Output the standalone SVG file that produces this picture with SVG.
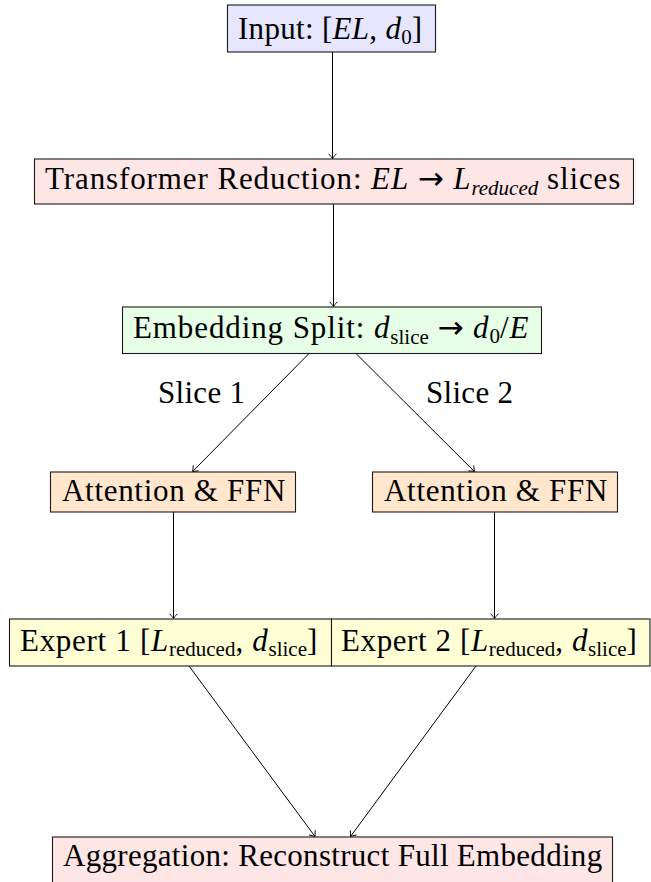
<svg xmlns="http://www.w3.org/2000/svg" width="651" height="882" viewBox="0 0 651 882">
  <style>
    .box { stroke: #1a1a1a; stroke-width: 1.1; }
    .t { font-size: 31px; fill: #000; letter-spacing: 0.3px; }
    .w { letter-spacing: 0.9px; }
    .m { font-style: italic; }
    .s { font-size: 21px; letter-spacing: 0; }
    .edge { fill: none; stroke: #000; stroke-width: 1; }
  </style>
  <defs>
    <marker id="tip" markerUnits="userSpaceOnUse" markerWidth="12" markerHeight="12" viewBox="-6 -6 12 12" refX="0" refY="0" orient="auto" overflow="visible">
      <path d="M-4.5,-3.6 Q-1.4,-0.9 0,0 Q-1.4,0.9 -4.5,3.6" fill="none" stroke="#000" stroke-width="0.9" stroke-linecap="round"/>
    </marker>
  </defs>

  <rect width="651" height="882" fill="#fff"/>

  <!-- connectors -->
  <g id="connectors">
    <line class="edge" x1="332.5" y1="52" x2="332.5" y2="158.5" marker-end="url(#tip)"/>
    <line class="edge" x1="333.5" y1="204" x2="333.5" y2="306.5" marker-end="url(#tip)"/>
    <line class="edge" x1="309" y1="353.5" x2="192.6" y2="471.5" marker-end="url(#tip)"/>
    <line class="edge" x1="356" y1="353.5" x2="474.4" y2="471.5" marker-end="url(#tip)"/>
    <line class="edge" x1="173.5" y1="512" x2="173.5" y2="618.5" marker-end="url(#tip)"/>
    <line class="edge" x1="494.5" y1="512" x2="494.5" y2="618.5" marker-end="url(#tip)"/>
    <line class="edge" x1="189" y1="666" x2="315" y2="836.5" marker-end="url(#tip)"/>
    <line class="edge" x1="476" y1="666" x2="350.5" y2="836.5" marker-end="url(#tip)"/>
    <text class="t" font-family="Liberation Serif" x="158" y="403">Slice 1</text>
    <text class="t" font-family="Liberation Serif" x="426" y="403">Slice 2</text>
  </g>

  <!-- input -->
  <g id="input">
    <rect class="box" x="227.5" y="5" width="208" height="47" fill="#e6e6ff"/>
    <text class="t" font-family="Liberation Serif" x="238" y="39">Input: [<tspan class="m">EL</tspan>, <tspan class="m">d</tspan><tspan class="s" dy="5">0</tspan><tspan dy="-5">]</tspan></text>
  </g>

  <!-- transformer reduction -->
  <g id="reduction">
    <rect class="box" x="34.5" y="159" width="599" height="45" fill="#ffe6e6"/>
    <text class="t w" font-family="Liberation Serif" x="45" y="189">Transformer Reduction: <tspan class="m">EL</tspan> <tspan font-family="DejaVu Sans">→</tspan> <tspan class="m">L</tspan><tspan class="s m" dy="6">reduced</tspan><tspan dy="-6"> slices</tspan></text>
  </g>

  <!-- embedding split -->
  <g id="split">
    <rect class="box" x="122.5" y="307" width="419" height="46.5" fill="#e6ffe6"/>
    <text class="t w" font-family="Liberation Serif" x="133" y="338">Embedding Split: <tspan class="m">d</tspan><tspan class="s" dy="6">slice</tspan><tspan dy="-6"> </tspan><tspan font-family="DejaVu Sans">→</tspan> <tspan class="m">d</tspan><tspan class="s" dy="5">0</tspan><tspan dy="-5">/</tspan><tspan class="m">E</tspan></text>
  </g>

  <!-- attention blocks -->
  <g id="attention1">
    <rect class="box" x="50.5" y="472" width="245" height="40" fill="#ffe6cc"/>
    <text class="t" font-family="Liberation Serif" x="62" y="501" style="letter-spacing:0.7px">Attention &amp; FFN</text>
  </g>
  <g id="attention2">
    <rect class="box" x="372.5" y="472" width="245" height="40" fill="#ffe6cc"/>
    <text class="t" font-family="Liberation Serif" x="384" y="501" style="letter-spacing:0.7px">Attention &amp; FFN</text>
  </g>

  <!-- experts -->
  <g id="expert1">
    <rect class="box" x="9.5" y="619" width="322" height="47" fill="#ffffd6"/>
    <text class="t" font-family="Liberation Serif" x="20" y="651" style="letter-spacing:0.7px">Expert 1 [<tspan class="m">L</tspan><tspan class="s" dy="5">reduced</tspan><tspan dy="-5">, </tspan><tspan class="m">d</tspan><tspan class="s" dy="5">slice</tspan><tspan dy="-5">]</tspan></text>
  </g>
  <g id="expert2">
    <rect class="box" x="331.5" y="619" width="318.5" height="47" fill="#ffffd6"/>
    <text class="t" font-family="Liberation Serif" x="341" y="651" style="letter-spacing:0.6px">Expert 2 [<tspan class="m">L</tspan><tspan class="s" dy="5">reduced</tspan><tspan dy="-5">, </tspan><tspan class="m">d</tspan><tspan class="s" dy="5">slice</tspan><tspan dy="-5">]</tspan></text>
  </g>

  <!-- aggregation (runs past the lower edge) -->
  <g id="aggregation">
    <rect class="box" x="52.5" y="837" width="560" height="50" fill="#ffe6e6"/>
    <text class="t" font-family="Liberation Serif" x="63" y="866">Aggregation: Reconstruct Full Embedding</text>
  </g>
</svg>
